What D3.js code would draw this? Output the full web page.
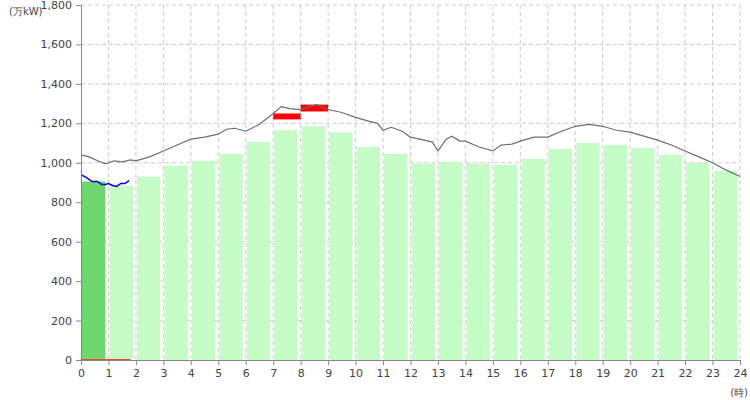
<!DOCTYPE html>
<html lang="ja">
<head>
<meta charset="UTF-8">
<script src="https://d3js.org/d3.v7.min.js"></script>
<style>
  body { margin: 0; background: #fff; }
  text { font-family: "DejaVu Sans", sans-serif; font-size: 11px; fill: #444; }
  .grid line { stroke: #ccc; stroke-dasharray: 4,3; }
</style>
</head>
<body>
<svg id="chart" width="750" height="400"></svg>
<script>
// hourly demand bars (万kW)
const hours = d3.range(24);
const barValues = [905, 885, 930, 985, 1010, 1045, 1105, 1165, 1185, 1155, 1080, 1045,
                   995, 1005, 995, 990, 1020, 1070, 1100, 1090, 1075, 1040, 1000, 960];
const actualHours = [0];

// gray reference line: [hour, value]
const refLine = [[0,1040],[0.3,1030],[0.6,1010],[0.9,995],[1.2,1010],[1.5,1005],[1.8,1015],[2,1010],
  [2.5,1030],[3,1060],[3.5,1090],[4,1120],[4.5,1130],[5,1145],[5.3,1170],[5.6,1175],[6,1160],
  [6.5,1195],[7,1250],[7.3,1285],[7.6,1275],[8,1270],[8.3,1285],[8.6,1295],[9,1270],
  [9.5,1255],[10,1230],[10.5,1210],[10.8,1200],[11,1165],[11.3,1180],[11.7,1160],[12,1130],
  [12.5,1115],[12.8,1105],[13,1060],[13.3,1120],[13.5,1135],[13.8,1110],[14,1110],
  [14.5,1080],[15,1060],[15.3,1090],[15.7,1095],[16,1110],[16.5,1130],[17,1130],
  [17.5,1160],[18,1185],[18.5,1195],[19,1185],[19.5,1165],[20,1155],[20.5,1135],
  [21,1115],[21.5,1090],[22,1060],[22.5,1030],[23,1000],[23.4,970],[23.7,950],[24,930]];

// blue actual line
const actualLine = [[0,940],[0.2,925],[0.4,905],[0.6,905],[0.75,890],[0.9,890],[1,895],
  [1.15,885],[1.3,880],[1.45,895],[1.6,895],[1.75,910]];

// red forecast bands: [start hour, low, high]
const redBands = [[7, 1220, 1250], [8, 1260, 1295]];

const yTicks = d3.range(0, 1801, 200);

const svg = d3.select("#chart");
const x = d3.scaleLinear().domain([0, 24]).range([81, 740]);
const y = d3.scaleLinear().domain([0, 1800]).range([360, 5]);

// grid
svg.append("g").attr("class", "grid").selectAll("line")
  .data(hours.slice(1).concat([24])).join("line")
  .attr("x1", d => x(d)).attr("x2", d => x(d)).attr("y1", 5).attr("y2", 360);
svg.append("g").attr("class", "grid").selectAll("line")
  .data(yTicks.slice(1)).join("line")
  .attr("x1", 81).attr("x2", 740).attr("y1", d => y(d)).attr("y2", d => y(d));

// bars
svg.append("g").selectAll("rect").data(barValues).join("rect")
  .attr("x", (d, i) => x(i) + 1)
  .attr("width", x(1) - x(0) - 4)
  .attr("y", d => y(d))
  .attr("height", d => y(0) - y(d))
  .attr("fill", (d, i) => actualHours.includes(i) ? "#6ed86e" : "#c6fcc6");

// red bands
svg.append("g").selectAll("rect").data(redBands).join("rect")
  .attr("x", d => x(d[0]))
  .attr("width", x(1) - x(0))
  .attr("y", d => y(d[2]))
  .attr("height", d => y(d[1]) - y(d[2]))
  .attr("fill", "#ff0000");

svg.append("path").datum(refLine).attr("d", d3.line().x(d => x(d[0])).y(d => y(d[1])))
  .attr("fill", "none").attr("stroke", "#6e6e6e").attr("stroke-width", 1.2);
svg.append("path").datum(actualLine).attr("d", d3.line().x(d => x(d[0])).y(d => y(d[1])))
  .attr("fill", "none").attr("stroke", "#0000ee").attr("stroke-width", 1.5);

// axes
svg.append("g").attr("transform", "translate(81,0)")
  .call(d3.axisLeft(y).tickValues(yTicks).tickFormat(d3.format(",")).tickSize(5).tickPadding(4))
  .call(g => g.selectAll("line,path").attr("stroke", "#888"))
  .call(g => g.selectAll("text").style("font-size", "11px").attr("fill", "#444"));
svg.append("g").attr("transform", "translate(0,360)")
  .call(d3.axisBottom(x).tickValues(d3.range(0, 25)).tickFormat(d3.format("d")).tickSize(5).tickPadding(4))
  .call(g => g.selectAll("line,path").attr("stroke", "#888"))
  .call(g => g.selectAll("text").style("font-size", "11px").attr("fill", "#444"));

// actual-so-far marker on baseline
svg.append("line").attr("x1", x(0)).attr("x2", x(1.8)).attr("y1", 359.5).attr("y2", 359.5)
  .attr("stroke", "#e05020").attr("stroke-width", 1);

svg.append("text").attr("x", 9).attr("y", 15).style("font-size", "10px").text("(万kW)");
svg.append("text").attr("x", 748).attr("y", 396).attr("text-anchor", "end").style("font-size", "10px").text("(時)");
</script>
</body>
</html>
